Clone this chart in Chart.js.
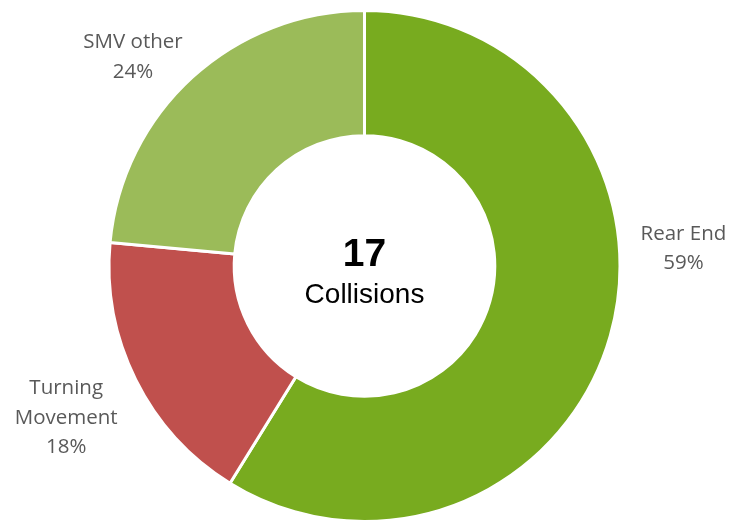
<!DOCTYPE html>
<html>
<head>
<meta charset="utf-8">
<script src="https://cdn.jsdelivr.net/npm/chart.js@4"></script>
<style>
    html, body { margin: 0; padding: 0; background: #fff; overflow: hidden; }
    #wrap { width: 729px; height: 523px; position: relative; }
</style>
</head>
<body>
<div id="wrap"><canvas id="collisionChart"></canvas></div>
<script>
// Dados do gráfico
const categories = ['Rear End', 'Turning Movement', 'SMV other'];
const counts = [10, 3, 4];
const percentLabels = ['59%', '18%', '24%'];
const sliceColors = ['#78AB1F', '#C0504D', '#9BBB59'];
const totalCollisions = 17;

// linhas de texto de cada rótulo (quebra como no original)
const labelLines = [['Rear End'], ['Turning', 'Movement'], ['SMV other']];
// ajuste fino dos rótulos: deslocamento angular (graus) e distância relativa ao raio
const labelTweaks = [
    { angle: -19, dist: 1.25 },
    { angle: -0.5, dist: 1.31 },
    { angle: -5.6, dist: 1.22 }
];

// Plugin para o texto central e os rótulos externos
const donutText = {
    id: 'donutText',
    afterDraw(chart) {
        const ctx = chart.ctx;
        const meta = chart.getDatasetMeta(0);
        const first = meta.data[0];
        const cx = first.x, cy = first.y;

        ctx.save();
        ctx.textAlign = 'center';
        ctx.textBaseline = 'middle';
        ctx.fillStyle = '#000';
        ctx.font = 'bold 39px "Liberation Sans", Arial, sans-serif';
        ctx.fillText(String(totalCollisions), cx, cy - 11);
        ctx.font = '28px "Liberation Sans", Arial, sans-serif';
        ctx.fillText('Collisions', cx, cy + 29);

        ctx.fillStyle = '#595959';
        ctx.font = '20.5px "Open Sans", "Noto Sans", sans-serif';
        meta.data.forEach((arc, i) => {
            const mid = (arc.startAngle + arc.endAngle) / 2 + labelTweaks[i].angle * Math.PI / 180;
            const r = arc.outerRadius * labelTweaks[i].dist;
            const lx = cx + Math.cos(mid) * r;
            const ly = cy + Math.sin(mid) * r;
            const lines = labelLines[i].concat([percentLabels[i]]);
            const lh = 29.5;
            const top = ly - (lines.length - 1) * lh / 2;
            lines.forEach((t, k) => ctx.fillText(t, lx, top + k * lh));
        });
        ctx.restore();
    }
};

new Chart(document.getElementById('collisionChart'), {
    type: 'doughnut',
    data: {
        labels: categories,
        datasets: [{
            data: counts,
            backgroundColor: sliceColors,
            borderColor: '#fff',
            borderWidth: 3
        }]
    },
    options: {
        responsive: true,
        maintainAspectRatio: false,
        animation: false,
        cutout: '51%',
        layout: { padding: { top: 9, bottom: 0, left: 0, right: 0 } },
        plugins: {
            legend: { display: false },
            tooltip: { enabled: false }
        }
    },
    plugins: [donutText]
});
</script>
</body>
</html>
